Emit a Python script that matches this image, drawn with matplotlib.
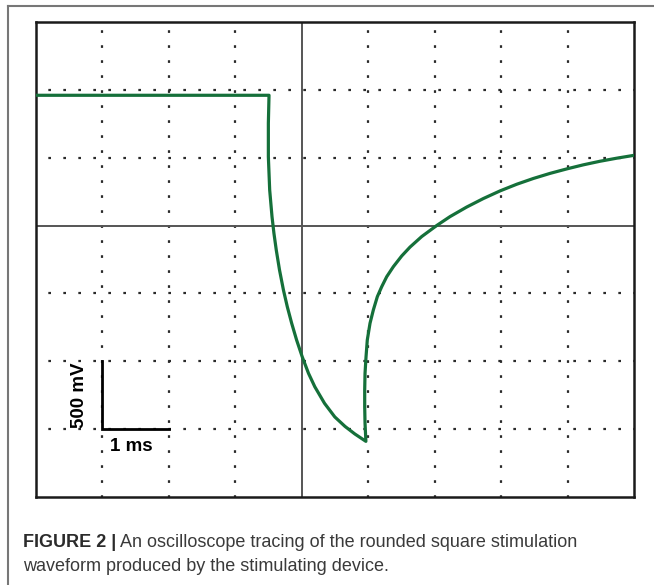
import numpy as np
import matplotlib
matplotlib.use("Agg")
import matplotlib.pyplot as plt
from matplotlib.lines import Line2D

# trace, in divisions (x: 1 ms/div, y: 500 mV/div)
flat_x = [0.0, 3.507]
flat_y = [5.92, 5.92]

fall_x = [3.507, 3.497, 3.497, 3.517, 3.552, 3.581, 3.616, 3.665, 3.724, 3.782,
          3.848, 3.922, 4.006, 4.101, 4.196, 4.342, 4.497, 4.651, 4.800, 4.965]
fall_y = [5.92, 5.507, 5.015, 4.524, 4.131, 3.886, 3.640, 3.345, 3.050, 2.804,
          2.560, 2.314, 2.068, 1.823, 1.625, 1.381, 1.180, 1.040, 0.928, 0.82]

rise_x = [4.965, 4.952, 4.947, 4.947, 4.952, 4.967, 4.986, 5.027, 5.077, 5.137,
          5.203, 5.278, 5.378, 5.504, 5.629, 5.805, 6.031, 6.231, 6.482, 6.732,
          6.984, 7.235, 7.485, 7.736, 7.988, 8.237, 8.489, 8.740, 9.0]
rise_y = [0.82, 1.086, 1.331, 1.577, 1.823, 2.067, 2.314, 2.560, 2.756, 2.952,
          3.099, 3.246, 3.394, 3.552, 3.683, 3.838, 4.001, 4.132, 4.273, 4.398,
          4.511, 4.609, 4.694, 4.769, 4.835, 4.895, 4.948, 4.993, 5.035]

dotted_x = [1, 2, 3, 5, 6, 7, 8]
dotted_y = [1, 2, 3, 5, 6]
center_x = 4
center_y = 4

trace_color = "#15703a"
font_list = ["Liberation Sans Narrow", "Liberation Sans", "DejaVu Sans"]

fig = plt.figure(figsize=(6.54, 5.85), dpi=100)
ax = fig.add_axes([36 / 654, 1 - 497 / 585, 598 / 654, 475 / 585])
ax.set_xlim(0, 9)
ax.set_ylim(0, 7)

# dotted graticule
for gx in dotted_x:
    ax.axvline(gx, color="#2a2a2a", lw=1.6, linestyle=(0.4, (1.2, 5.55)), zorder=1)
for gy in dotted_y:
    ax.axhline(gy, color="#2a2a2a", lw=1.6, linestyle=(1.2, (1.2, 5.55)), zorder=1)
ax.axvline(center_x, color="#555555", lw=1.4, zorder=1)
ax.axhline(center_y, color="#555555", lw=1.4, zorder=1)

# waveform
wx = flat_x + fall_x[1:] + rise_x[1:]
wy = flat_y + fall_y[1:] + rise_y[1:]
ax.plot(wx, wy, color=trace_color, lw=2.3, solid_joinstyle="round", zorder=3)

# scale bar
ax.plot([1, 1, 2], [2, 1, 1], color="black", lw=2.0, solid_joinstyle="miter", zorder=4)
ax.text(0.65, 1.5, "500 mV", rotation=90, ha="center", va="center",
        fontsize=13.5, fontweight="bold", family=font_list, zorder=5)
ax.text(1.44, 0.74, "1 ms", ha="center", va="center",
        fontsize=13.5, fontweight="bold", family=font_list, zorder=5)

ax.set_xticks([])
ax.set_yticks([])
for sp in ax.spines.values():
    sp.set_linewidth(1.8)
    sp.set_color("#1a1a1a")

# outer page frame (top and left rules)
fig.add_artist(Line2D([8 / 654, 1], [1 - 6 / 585, 1 - 6 / 585], color="#777777", lw=1.5))
fig.add_artist(Line2D([8 / 654, 8 / 654], [0, 1 - 6 / 585], color="#777777", lw=1.5))

# caption
cap_y1 = 1 - 547 / 585
cap_y2 = 1 - 571 / 585
t1 = fig.text(23 / 654, cap_y1, "FIGURE 2 |", fontsize=13, fontweight="bold",
              color="#2b2b2b", family=font_list, va="baseline")
fig.canvas.draw()
bb = t1.get_window_extent()
fig.text((bb.x1 + 4) / 654, cap_y1, "An oscilloscope tracing of the rounded square stimulation",
         fontsize=13, color="#3a3a3a", family=font_list, va="baseline")
fig.text(23 / 654, cap_y2, "waveform produced by the stimulating device.",
         fontsize=13, color="#3a3a3a", family=font_list, va="baseline")

fig.savefig("out.png", dpi=100)
